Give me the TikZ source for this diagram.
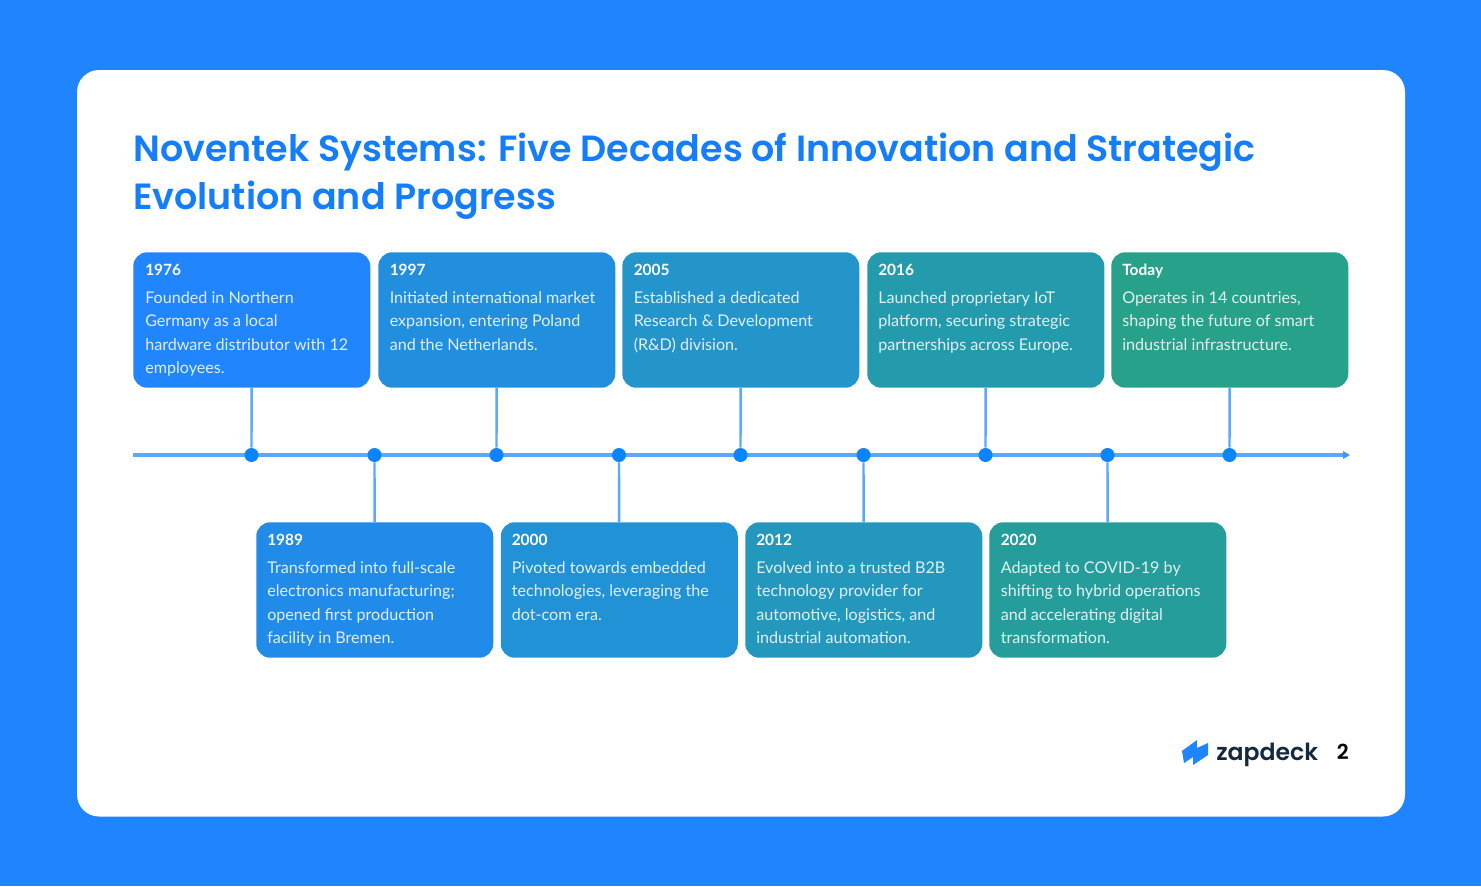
\documentclass[tikz,border=0pt]{standalone}
\usepackage{fontspec}
\setmainfont{Lato}
\newfontfamily\titlefont{Poppins}[BoldFont={Poppins SemiBold}]
\definecolor{bgblue}{RGB}{31,133,255}
\definecolor{titleblue}{RGB}{20,125,250}
\definecolor{linecol}{RGB}{90,168,255}
\definecolor{dotcol}{RGB}{10,132,255}
\definecolor{logotext}{RGB}{20,41,61}
\definecolor{ca}{RGB}{33,134,254}
\definecolor{cb}{RGB}{33,139,234}
\definecolor{cc}{RGB}{34,143,222}
\definecolor{cd}{RGB}{34,146,214}
\definecolor{ce}{RGB}{35,149,203}
\definecolor{cf}{RGB}{35,152,188}
\definecolor{cg}{RGB}{36,155,172}
\definecolor{ch}{RGB}{37,158,155}
\definecolor{ci}{RGB}{40,161,138}
\newcommand{\bodysize}{\fontsize{12.1pt}{17.7pt}\selectfont}
\tikzset{
  cardbox/.style={draw=none,rounded corners=10.5pt,minimum width=177.75pt,minimum height=101.6pt,anchor=north west,inner sep=0pt},
  yeartext/.style={anchor=base west,inner sep=0pt,text=white,font=\fontsize{11.6pt}{14pt}\selectfont\bfseries},
  bodytext/.style={anchor=north west,inner sep=0pt,text=white,text opacity=0.86,align=left,font=\bodysize},
  tick/.style={draw=linecol,line width=1.8pt},
  axisline/.style={draw=linecol,line width=2.4pt},
  dotnode/.style={circle,fill=dotcol,draw=none,minimum size=10.5pt,inner sep=0pt},
  titletext/.style={anchor=base west,inner sep=0pt,text=titleblue,font=\titlefont\fontsize{27.33pt}{36pt}\selectfont\bfseries}
}
\begin{document}
\begin{tikzpicture}[x=0.75pt,y=-0.75pt]
\useasboundingbox (0,0) rectangle (1481,886);
\fill[bgblue] (0,0) rectangle (1481,886);
\fill[white,rounded corners=16.5pt] (77,70) rectangle (1405,816.5);

\node[titletext] (t1) at (133,161) {Noventek Systems: Five Decades of Innovation and Strategic};
\node[titletext] (t2) at (133,209) {Evolution and Progress};

\coordinate (axstart) at (133,455);
\coordinate (axend) at (1344,455);
\draw[axisline] (axstart) -- (axend);
\fill[linecol!60!dotcol] (1343,451) -- (1350,455) -- (1343,459) -- cycle;

% top cards
\node[cardbox,fill=ca] (b1) at (133,252) {};
\node[cardbox,fill=cc] (b3) at (378,252) {};
\node[cardbox,fill=ce] (b5) at (622,252) {};
\node[cardbox,fill=cg] (b7) at (867,252) {};
\node[cardbox,fill=ci] (b9) at (1111,252) {};
% bottom cards
\node[cardbox,fill=cb] (b2) at (256,522) {};
\node[cardbox,fill=cd] (b4) at (500.5,522) {};
\node[cardbox,fill=cf] (b6) at (745,522) {};
\node[cardbox,fill=ch] (b8) at (989,522) {};

% dots
\node[dotnode] (d1) at (251.5,455) {};
\node[dotnode] (d2) at (374.5,455) {};
\node[dotnode] (d3) at (496.5,455) {};
\node[dotnode] (d4) at (619,455) {};
\node[dotnode] (d5) at (740.5,455) {};
\node[dotnode] (d6) at (863.5,455) {};
\node[dotnode] (d7) at (985.5,455) {};
\node[dotnode] (d8) at (1107.5,455) {};
\node[dotnode] (d9) at (1229.5,455) {};

\draw[tick] (b1) -- (d1);
\draw[tick] (b3) -- (d3);
\draw[tick] (b5) -- (d5);
\draw[tick] (b7) -- (d7);
\draw[tick] (b9) -- (d9);
\draw[tick] (b2) -- (d2);
\draw[tick] (b4) -- (d4);
\draw[tick] (b6) -- (d6);
\draw[tick] (b8) -- (d8);

% top text
\node[yeartext] (y1) at (145,275.5) {1976};
\node[bodytext] (x1) at (145,291) {Founded in Northern\\Germany as a local\\hardware distributor with 12\\employees.};
\node[yeartext] (y3) at (389.5,275.5) {1997};
\node[bodytext] (x3) at (389.5,291) {Initiated international market\\expansion, entering Poland\\and the Netherlands.};
\node[yeartext] (y5) at (633.5,275.5) {2005};
\node[bodytext] (x5) at (633.5,291) {Established a dedicated\\Research \& Development\\(R\&D) division.};
\node[yeartext] (y7) at (878,275.5) {2016};
\node[bodytext] (x7) at (878,291) {Launched proprietary IoT\\platform, securing strategic\\partnerships across Europe.};
\node[yeartext] (y9) at (1122,275.5) {Today};
\node[bodytext] (x9) at (1122,291) {Operates in 14 countries,\\shaping the future of smart\\industrial infrastructure.};
% bottom text
\node[yeartext] (y2) at (267,545.5) {1989};
\node[bodytext] (x2) at (267,561) {Transformed into full-scale\\electronics manufacturing;\\opened first production\\facility in Bremen.};
\node[yeartext] (y4) at (511.5,545.5) {2000};
\node[bodytext] (x4) at (511.5,561) {Pivoted towards embedded\\technologies, leveraging the\\dot-com era.};
\node[yeartext] (y6) at (756,545.5) {2012};
\node[bodytext] (x6) at (756,561) {Evolved into a trusted B2B\\technology provider for\\automotive, logistics, and\\industrial automation.};
\node[yeartext] (y8) at (1000.5,545.5) {2020};
\node[bodytext] (x8) at (1000.5,561) {Adapted to COVID-19 by\\shifting to hybrid operations\\and accelerating digital\\transformation.};

% logo
\fill[bgblue,line join=round] (1182,751) -- (1197,740) -- (1197,748) -- (1208,743) -- (1208,755) -- (1193,765) -- (1193,757) -- (1184,763) -- cycle;
\node[anchor=base west,inner sep=0pt,text=logotext,font=\titlefont\fontsize{17.7pt}{20pt}\selectfont\bfseries] (logo) at (1216,760) {zapdeck};
\node[anchor=base east,inner sep=0pt,text=black,font=\titlefont\fontsize{15.5pt}{18pt}\selectfont\bfseries] (page) at (1349,759) {2};
\end{tikzpicture}
\end{document}
